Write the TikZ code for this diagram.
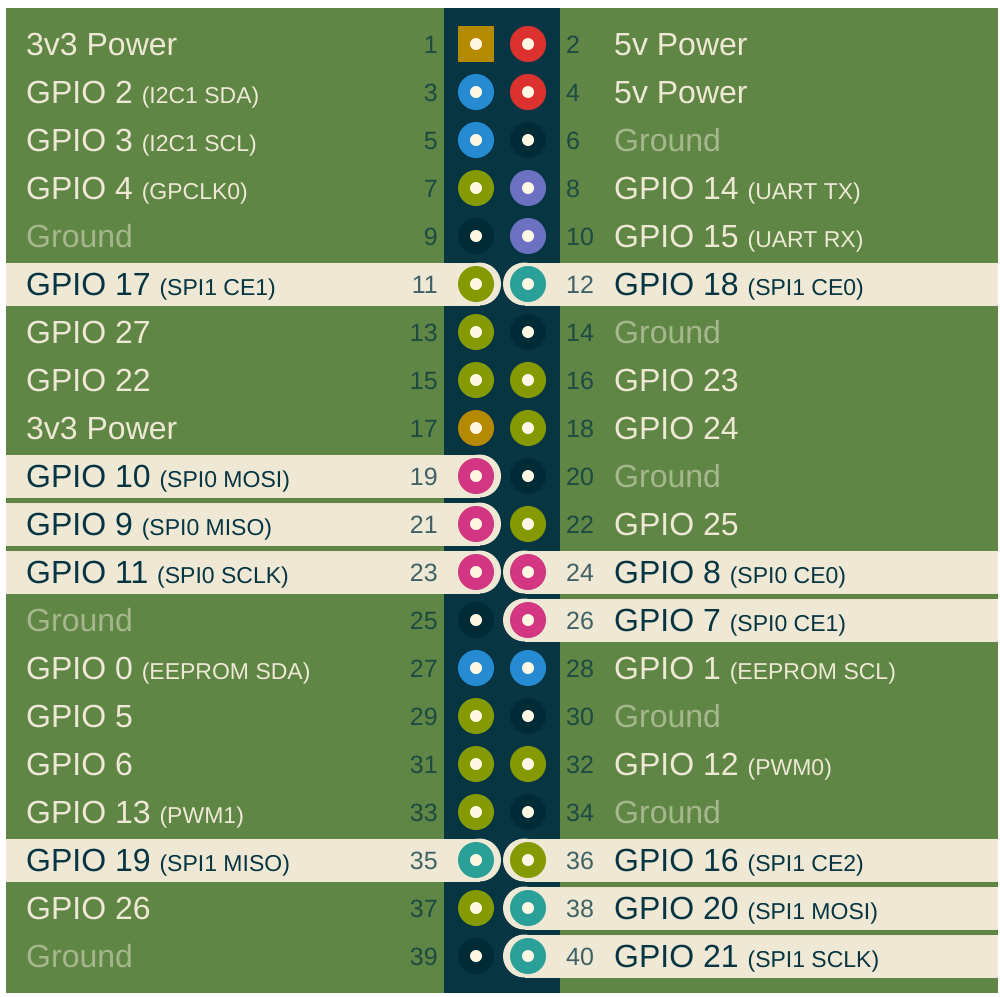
\documentclass[tikz,border=0pt]{standalone}
\usepackage{fontspec}
\setmainfont{Liberation Sans}
\definecolor{bggreen}{HTML}{5F8645}
\definecolor{colbg}{HTML}{073642}
\definecolor{gndc}{HTML}{002B36}
\definecolor{cream}{HTML}{EEE8D5}
\definecolor{dotc}{HTML}{FDF6E3}
\definecolor{cyellow}{HTML}{B58900}
\definecolor{cred}{HTML}{DC322F}
\definecolor{cblue}{HTML}{268BD2}
\definecolor{colive}{HTML}{859900}
\definecolor{cviolet}{HTML}{6C71C4}
\definecolor{cmag}{HTML}{D33682}
\definecolor{cteal}{HTML}{2AA198}
\definecolor{dtext}{HTML}{073642}
\definecolor{gtext}{HTML}{A6B78D}
\tikzset{
  pinbase/.style={circle, minimum size=36pt, inner sep=0pt, draw=none},
  pthree/.style={pinbase, fill=cyellow},
  pfive/.style={pinbase, fill=cred},
  pitwo/.style={pinbase, fill=cblue},
  pgpio/.style={pinbase, fill=colive},
  puart/.style={pinbase, fill=cviolet},
  pspi/.style={pinbase, fill=cmag},
  pteal/.style={pinbase, fill=cteal},
  pgnd/.style={pinbase, fill=gndc},
  dotn/.style={circle, minimum size=12pt, inner sep=0pt, fill=dotc},
  num/.style={font=\fontsize{25}{25}\selectfont, text=dtext, text opacity=0.75, inner sep=0pt},
  lab/.style={font=\fontsize{32}{32}\selectfont, text=cream, inner sep=0pt},
  lt/.style={},
  hl/.style={text=dtext},
  gd/.style={text=gtext},
  bandc/.style={fill=cream}
}
\newcommand{\sublab}[1]{\ifx&#1&\else\ {\fontsize{23}{23}\selectfont(#1)}\fi}
% #1 row, #2 pin style, #3 text style, #4 main text, #5 sub text
\newcommand{\lpin}[5]{%
  \pgfmathtruncatemacro{\pn}{2*#1-1}%
  \pgfmathsetmacro{\yy}{44+48*(#1-1)}%
  \node[#2] (p\pn) at (476,\yy) {};
  \node[dotn] (d\pn) at (p\pn) {};
  \node[num, anchor=base east] (n\pn) at (438,\yy+9) {\pn};
  \node[lab, #3, anchor=base west] (l\pn) at (26,\yy+11) {#4\sublab{#5}};
}
\newcommand{\rpin}[5]{%
  \pgfmathtruncatemacro{\pn}{2*#1}%
  \pgfmathsetmacro{\yy}{44+48*(#1-1)}%
  \node[#2] (p\pn) at (528,\yy) {};
  \node[dotn] (d\pn) at (p\pn) {};
  \node[num, anchor=base west] (n\pn) at (566,\yy+9) {\pn};
  \node[lab, #3, anchor=base west] (l\pn) at (614,\yy+11) {#4\sublab{#5}};
}
\newcommand{\lband}[1]{%
  \pgfmathsetmacro{\yy}{44+48*(#1-1)}%
  \fill[bandc] (6,\yy-21.5) rectangle (479.5,\yy+21.5);
  \fill[bandc] (479.5,\yy) circle[radius=21.5];
}
\newcommand{\rband}[1]{%
  \pgfmathsetmacro{\yy}{44+48*(#1-1)}%
  \fill[bandc] (524.5,\yy-21.5) rectangle (998,\yy+21.5);
  \fill[bandc] (524.5,\yy) circle[radius=21.5];
}
\begin{document}
\begin{tikzpicture}[x=1pt, y=-1pt]
\useasboundingbox (0,0) rectangle (1000,996);
\fill[white] (0,0) rectangle (1000,996);
\fill[bggreen] (6,8) rectangle (998,993);
\fill[colbg] (444,8) rectangle (560,993);
% highlight bands
\lband{6}\lband{10}\lband{11}\lband{12}\lband{18}
\rband{6}\rband{12}\rband{13}\rband{18}\rband{19}\rband{20}
% left column
\lpin{1}{pthree,rectangle}{lt}{3v3 Power}{}
\lpin{2}{pitwo}{lt}{GPIO 2}{I2C1 SDA}
\lpin{3}{pitwo}{lt}{GPIO 3}{I2C1 SCL}
\lpin{4}{pgpio}{lt}{GPIO 4}{GPCLK0}
\lpin{5}{pgnd}{gd}{Ground}{}
\lpin{6}{pgpio}{hl}{GPIO 17}{SPI1 CE1}
\lpin{7}{pgpio}{lt}{GPIO 27}{}
\lpin{8}{pgpio}{lt}{GPIO 22}{}
\lpin{9}{pthree}{lt}{3v3 Power}{}
\lpin{10}{pspi}{hl}{GPIO 10}{SPI0 MOSI}
\lpin{11}{pspi}{hl}{GPIO 9}{SPI0 MISO}
\lpin{12}{pspi}{hl}{GPIO 11}{SPI0 SCLK}
\lpin{13}{pgnd}{gd}{Ground}{}
\lpin{14}{pitwo}{lt}{GPIO 0}{EEPROM SDA}
\lpin{15}{pgpio}{lt}{GPIO 5}{}
\lpin{16}{pgpio}{lt}{GPIO 6}{}
\lpin{17}{pgpio}{lt}{GPIO 13}{PWM1}
\lpin{18}{pteal}{hl}{GPIO 19}{SPI1 MISO}
\lpin{19}{pgpio}{lt}{GPIO 26}{}
\lpin{20}{pgnd}{gd}{Ground}{}
% right column
\rpin{1}{pfive}{lt}{5v Power}{}
\rpin{2}{pfive}{lt}{5v Power}{}
\rpin{3}{pgnd}{gd}{Ground}{}
\rpin{4}{puart}{lt}{GPIO 14}{UART TX}
\rpin{5}{puart}{lt}{GPIO 15}{UART RX}
\rpin{6}{pteal}{hl}{GPIO 18}{SPI1 CE0}
\rpin{7}{pgnd}{gd}{Ground}{}
\rpin{8}{pgpio}{lt}{GPIO 23}{}
\rpin{9}{pgpio}{lt}{GPIO 24}{}
\rpin{10}{pgnd}{gd}{Ground}{}
\rpin{11}{pgpio}{lt}{GPIO 25}{}
\rpin{12}{pspi}{hl}{GPIO 8}{SPI0 CE0}
\rpin{13}{pspi}{hl}{GPIO 7}{SPI0 CE1}
\rpin{14}{pitwo}{lt}{GPIO 1}{EEPROM SCL}
\rpin{15}{pgnd}{gd}{Ground}{}
\rpin{16}{pgpio}{lt}{GPIO 12}{PWM0}
\rpin{17}{pgnd}{gd}{Ground}{}
\rpin{18}{pgpio}{hl}{GPIO 16}{SPI1 CE2}
\rpin{19}{pteal}{hl}{GPIO 20}{SPI1 MOSI}
\rpin{20}{pteal}{hl}{GPIO 21}{SPI1 SCLK}
\end{tikzpicture}
\end{document}
